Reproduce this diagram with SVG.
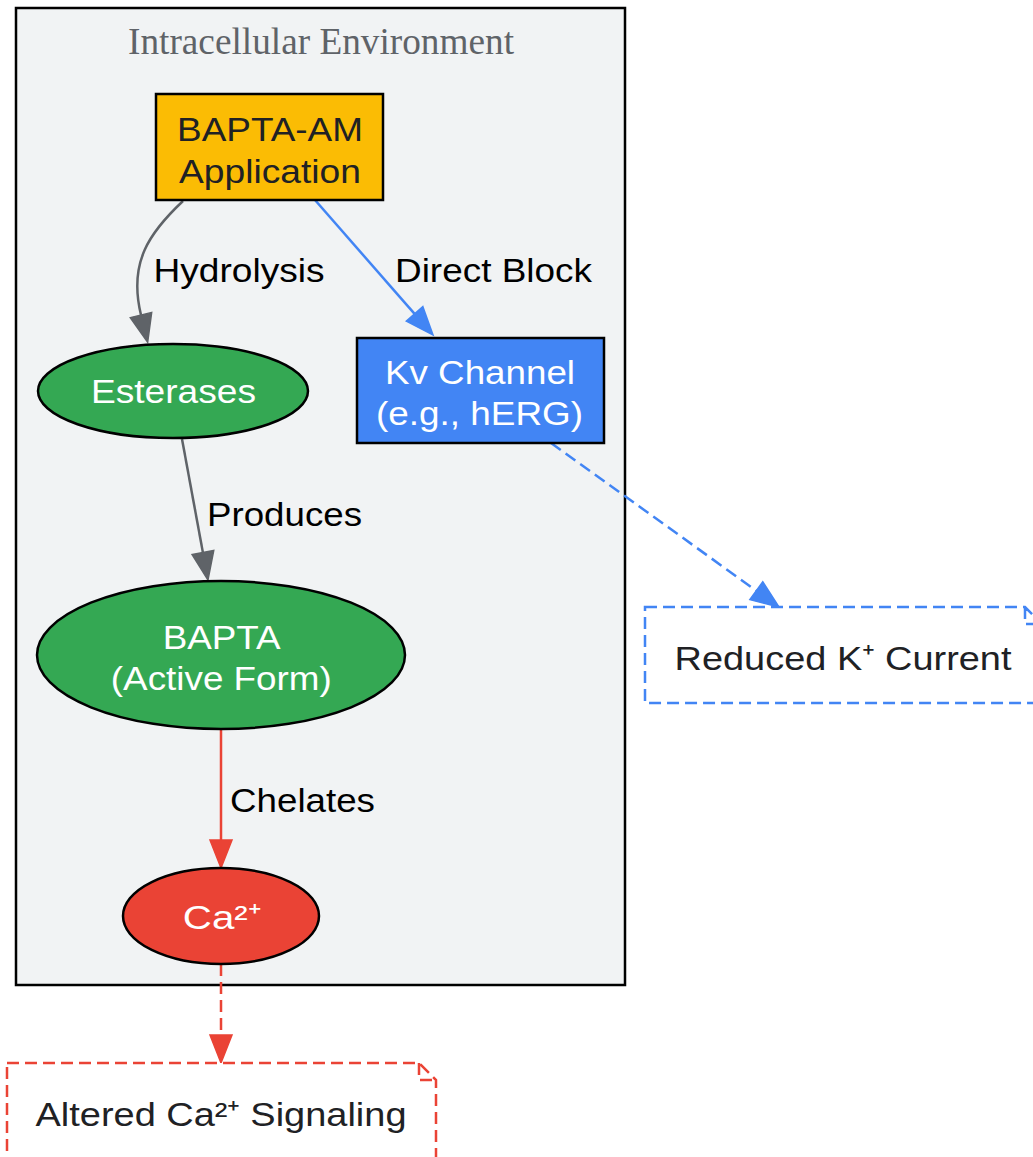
<svg xmlns="http://www.w3.org/2000/svg" width="1033" height="1157" viewBox="0 0 1033 1157">
<style>
.sans{font-family:"Liberation Sans",Arial,sans-serif;font-size:34px;text-anchor:middle}
.node{stroke:#000;stroke-width:2.5}
.lbl{fill:#000}
.dark{fill:#202124}
.white{fill:#fff}
.edge{fill:none;stroke-width:2.5}
.gray{stroke:#5f6368}
.blue{stroke:#4285F4}
.red{stroke:#EA4335}
.dash{stroke-dasharray:12,6}
</style>
<defs>
<marker id="ag" markerUnits="userSpaceOnUse" markerWidth="28" markerHeight="22" refX="0" refY="11" orient="auto" overflow="visible"><path d="M0,0 L28,11 L0,22 z" fill="#5f6368" stroke="#5f6368" stroke-width="1.5"/></marker>
<marker id="ab" markerUnits="userSpaceOnUse" markerWidth="28" markerHeight="22" refX="0" refY="11" orient="auto" overflow="visible"><path d="M0,0 L28,11 L0,22 z" fill="#4285F4" stroke="#4285F4" stroke-width="1.5"/></marker>
<marker id="ar" markerUnits="userSpaceOnUse" markerWidth="28" markerHeight="22" refX="0" refY="11" orient="auto" overflow="visible"><path d="M0,0 L28,11 L0,22 z" fill="#EA4335" stroke="#EA4335" stroke-width="1.5"/></marker>
</defs>
<rect width="1033" height="1157" fill="#fff"/>
<g id="cluster_intracellular">
<rect x="16" y="8" width="609" height="977" fill="#F1F3F4" stroke="#000" stroke-width="2.5"/>
<text x="321" y="54" font-family="'Liberation Serif','Times New Roman',serif" font-size="37" fill="#5f6368" text-anchor="middle" textLength="386" lengthAdjust="spacingAndGlyphs">Intracellular Environment</text>
</g>
<g id="connectors">
<path class="edge gray" d="M183,201 C150,232 128,262 141,315" marker-end="url(#ag)"/>
<path class="edge blue" d="M315,200 L414.6,313.9" marker-end="url(#ab)"/>
<path class="edge gray" d="M182,439 L202.9,552.5" marker-end="url(#ag)"/>
<path class="edge red" d="M221,729 L221,840" marker-end="url(#ar)"/>
<path class="edge red dash" d="M221,964 L221,1035" marker-end="url(#ar)"/>
<path class="edge blue dash" d="M551,443 L756.3,590.7" marker-end="url(#ab)"/>
<text class="sans lbl" x="239" y="282" textLength="171" lengthAdjust="spacingAndGlyphs">Hydrolysis</text>
<text class="sans lbl" x="493.5" y="282" textLength="197" lengthAdjust="spacingAndGlyphs">Direct Block</text>
<text class="sans lbl" x="284.5" y="526" textLength="155" lengthAdjust="spacingAndGlyphs">Produces</text>
<text class="sans lbl" x="302.5" y="812" textLength="145" lengthAdjust="spacingAndGlyphs">Chelates</text>
</g>
<g id="bapta_am">
<rect class="node" x="156" y="94" width="227" height="106" fill="#FBBC04"/>
<text class="sans dark" x="270" y="141" textLength="186" lengthAdjust="spacingAndGlyphs">BAPTA-AM</text>
<text class="sans dark" x="270" y="182.5" textLength="182" lengthAdjust="spacingAndGlyphs">Application</text>
</g>
<g id="esterases">
<ellipse class="node" cx="173" cy="391" rx="135" ry="47" fill="#34A853"/>
<text class="sans white" x="173.5" y="403" textLength="165" lengthAdjust="spacingAndGlyphs">Esterases</text>
</g>
<g id="kv_channel">
<rect class="node" x="357" y="338" width="247" height="105" fill="#4285F4"/>
<text class="sans white" x="480" y="383.5" textLength="190" lengthAdjust="spacingAndGlyphs">Kv Channel</text>
<text class="sans white" x="479.5" y="425" textLength="207" lengthAdjust="spacingAndGlyphs">(e.g., hERG)</text>
</g>
<g id="bapta">
<ellipse class="node" cx="221" cy="655" rx="184" ry="74" fill="#34A853"/>
<text class="sans white" x="221.7" y="649" textLength="118" lengthAdjust="spacingAndGlyphs">BAPTA</text>
<text class="sans white" x="221.3" y="690" textLength="221" lengthAdjust="spacingAndGlyphs">(Active Form)</text>
</g>
<g id="calcium">
<ellipse class="node" cx="221" cy="916" rx="98" ry="48" fill="#EA4335"/>
<text class="sans white" x="221.8" y="929" textLength="78" lengthAdjust="spacingAndGlyphs">Ca²⁺</text>
</g>
<g id="reduced_k">
<path d="M645,607 L1025,607 L1042,624 L1042,703 L645,703 Z M1025,607 L1025,624 L1042,624" fill="#fff" stroke="#4285F4" stroke-width="2.5" stroke-dasharray="12,6"/>
<text class="sans dark" x="843" y="670" textLength="337" lengthAdjust="spacingAndGlyphs">Reduced K⁺ Current</text>
</g>
<g id="altered_ca">
<path d="M7,1063 L419,1063 L436,1080 L436,1160 L7,1160 Z M419,1063 L419,1080 L436,1080" fill="#fff" stroke="#EA4335" stroke-width="2.5" stroke-dasharray="12,6"/>
<text class="sans dark" x="221" y="1126" textLength="371" lengthAdjust="spacingAndGlyphs">Altered Ca²⁺ Signaling</text>
</g>
</svg>
